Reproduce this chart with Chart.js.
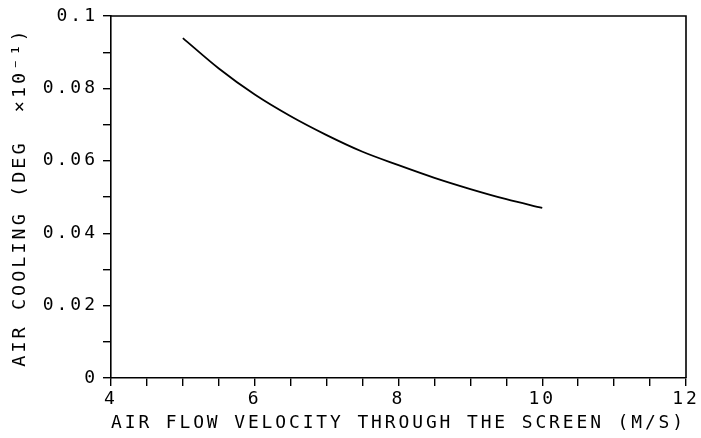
<!DOCTYPE html>
<html>
<head>
<meta charset="utf-8">
<script src="https://cdn.jsdelivr.net/npm/chart.js@4/dist/chart.umd.min.js"></script>
<style>
    html, body { margin: 0; padding: 0; background: #fff; }
    #wrap { width: 701px; height: 438px; }
</style>
</head>
<body>
<div id="wrap"><canvas id="coolingChart"></canvas></div>
<script>
const velocity = [5, 5.5, 6, 6.5, 7, 7.5, 8, 8.5, 9, 9.5, 10];
const airCooling = [0.0939, 0.0855, 0.0783, 0.0723, 0.0671, 0.0625, 0.0588, 0.0553, 0.0522, 0.0494, 0.0470];
const xLabels = [4, 6, 8, 10, 12];
const yLabels = [0, 0.02, 0.04, 0.06, 0.08, 0.1];

const FONT = 'DejaVu Sans Mono';

// plotter style lettering is wide, so space the letters out
const spacingPlugin = {
    id: 'spacing',
    beforeDraw(chart) {
        chart.ctx.letterSpacing = '3px';
    }
};

// top and right frame lines
const framePlugin = {
    id: 'frame',
    afterDraw(chart) {
        const { ctx, chartArea } = chart;
        ctx.save();
        ctx.strokeStyle = '#000';
        ctx.lineWidth = 1.6;
        ctx.beginPath();
        ctx.moveTo(chartArea.left, chartArea.top);
        ctx.lineTo(chartArea.right, chartArea.top);
        ctx.lineTo(chartArea.right, chartArea.bottom);
        ctx.stroke();
        ctx.restore();
    }
};

function isLabel(list, v) {
    return list.some(l => Math.abs(l - v) < 1e-9);
}

new Chart(document.getElementById('coolingChart'), {
    type: 'scatter',
    data: {
        datasets: [{
            data: velocity.map((v, i) => ({ x: v, y: airCooling[i] })),
            showLine: true,
            borderColor: '#000',
            borderWidth: 1.8,
            pointRadius: 0,
            tension: 0.4,
            cubicInterpolationMode: 'monotone'
        }]
    },
    options: {
        responsive: true,
        maintainAspectRatio: false,
        animation: false,
        layout: { padding: { top: 16, right: 15, left: 0, bottom: 0 } },
        plugins: { legend: { display: false }, tooltip: { enabled: false } },
        scales: {
            x: {
                type: 'linear',
                min: 4,
                max: 12,
                afterFit(scale) { scale.height = 60; },
                border: { display: true, color: '#000', width: 1.6 },
                grid: { drawOnChartArea: false, drawTicks: true, tickLength: 8, color: '#000', lineWidth: 1.4 },
                ticks: {
                    stepSize: 0.5,
                    autoSkip: false,
                    maxRotation: 0,
                    padding: 3,
                    color: '#000',
                    font: { family: FONT, size: 18 },
                    callback: v => isLabel(xLabels, v) ? String(v) : ''
                },
                title: {
                    display: true,
                    text: 'AIR FLOW VELOCITY THROUGH THE SCREEN (M/S)',
                    color: '#000',
                    font: { family: FONT, size: 18.5 },
                    padding: { top: 0, bottom: 4 }
                }
            },
            y: {
                min: 0,
                max: 0.1,
                afterFit(scale) { scale.width = 111; },
                border: { display: true, color: '#000', width: 1.6 },
                grid: { drawOnChartArea: false, drawTicks: true, tickLength: 8, color: '#000', lineWidth: 1.4 },
                ticks: {
                    stepSize: 0.01,
                    autoSkip: false,
                    padding: 5,
                    color: '#000',
                    font: { family: FONT, size: 18 },
                    callback: v => isLabel(yLabels, v) ? String(Math.round(v * 100) / 100) : ''
                },
                title: {
                    display: true,
                    text: 'AIR COOLING (DEG  \u00d710\u207b\u00b9)',
                    color: '#000',
                    font: { family: FONT, size: 18.5 },
                    padding: { top: 9, bottom: 0 }
                }
            }
        }
    },
    plugins: [spacingPlugin, framePlugin]
});
</script>
</body>
</html>
